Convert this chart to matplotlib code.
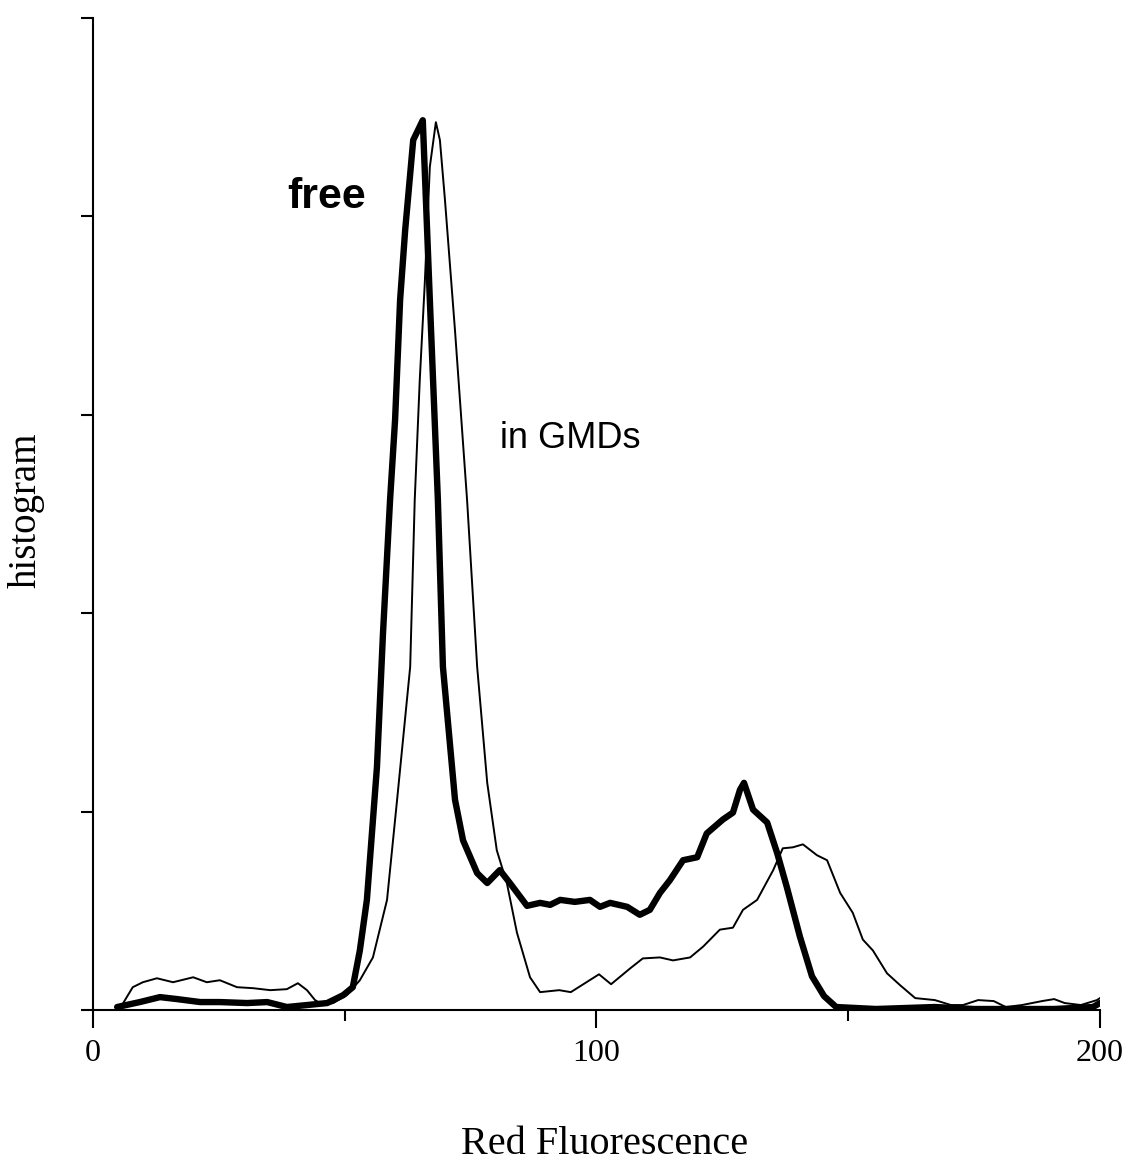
import matplotlib
matplotlib.use("Agg")
import matplotlib.pyplot as plt

# free (thick line)
free_x = [4.8, 9.3, 13.3, 16.7, 21.3, 25.2, 30.6, 34.6, 38.5, 42.5, 46.5, 49.7, 51.6,
          53.0, 54.4, 56.4, 57.6, 59.0, 60.0, 61.0, 62.0, 63.6, 65.5, 66.9, 68.5, 69.5,
          71.9, 73.5, 76.3, 78.3, 80.8, 82.8, 86.2, 88.8, 90.8, 92.8, 95.7, 98.7, 100.7,
          102.7, 106.1, 108.6, 110.6, 112.6, 114.6, 117.2, 120.0, 121.9, 125.1, 127.1,
          128.5, 129.3, 131.1, 133.9, 135.9, 137.8, 140.4, 142.8, 145.2, 147.6, 155.5,
          167.2, 175.0, 190.9, 198.6, 200.0]
free_y = [0.3, 0.8, 1.3, 1.1, 0.8, 0.8, 0.7, 0.8, 0.3, 0.5, 0.7, 1.5, 2.3,
          6.0, 11.1, 24.5, 38.0, 51.4, 59.5, 71.6, 78.6, 87.7, 89.7, 71.6, 51.4, 34.6,
          21.2, 17.1, 13.8, 12.8, 14.1, 12.8, 10.5, 10.8, 10.6, 11.1, 10.9, 11.1, 10.4,
          10.8, 10.4, 9.6, 10.1, 11.8, 13.1, 15.1, 15.4, 17.8, 19.2, 19.9,
          22.2, 22.9, 20.2, 18.9, 15.8, 12.4, 7.4, 3.4, 1.4, 0.3, 0.1,
          0.3, 0.1, 0.1, 0.3, 0.7]

# in GMDs (thin line)
gmd_x = [6.0, 7.9, 9.9, 12.7, 15.9, 19.9, 22.6, 25.2, 28.6, 31.8, 35.2, 38.5, 40.7,
         42.5, 44.1, 45.7, 47.7, 50.4, 53.0, 55.6, 58.4, 60.4, 63.0, 63.9, 64.9, 65.9,
         66.9, 68.1, 68.9, 69.9, 71.9, 74.3, 76.3, 78.3, 80.2, 82.2, 84.2, 86.8, 88.8,
         92.6, 94.9, 100.5, 102.9, 106.7, 109.2, 112.6, 115.2, 118.6, 121.2, 124.5,
         127.1, 129.1, 131.9, 135.1, 137.0, 139.0, 141.0, 143.8, 145.8, 148.4, 150.9,
         152.9, 154.9, 157.7, 160.3, 163.3, 167.2, 170.4, 172.8, 175.8, 178.9, 181.3,
         184.5, 188.5, 190.9, 193.0, 196.2, 199.4, 200.0]
gmd_y = [0.7, 2.3, 2.8, 3.2, 2.8, 3.3, 2.8, 3.0, 2.3, 2.2, 2.0, 2.1, 2.7,
         2.0, 1.0, 0.5, 0.7, 1.5, 3.0, 5.3, 11.1, 21.2, 34.6, 51.4, 63.5, 73.3,
         85.0, 89.5, 87.7, 81.7, 68.5, 51.4, 34.6, 22.9, 16.1, 12.8, 7.8, 3.3, 1.8,
         2.0, 1.8, 3.6, 2.6, 4.2, 5.2, 5.3, 5.0, 5.3, 6.4, 8.1,
         8.3, 10.1, 11.1, 14.1, 16.3, 16.4, 16.7, 15.6, 15.1, 11.8, 9.8,
         7.1, 6.0, 3.7, 2.5, 1.2, 1.0, 0.5, 0.5, 1.0, 0.9, 0.3,
         0.5, 0.9, 1.1, 0.7, 0.5, 1.0, 1.2]

x_major = [0, 100, 200]
x_minor = [50, 150]
y_ticks = [0, 20, 40, 60, 80, 100]

fig = plt.figure(figsize=(11.34, 11.64), dpi=100)
ax = fig.add_axes([0.082, 0.1323, 0.888, 0.8522])

ax.plot(gmd_x, gmd_y, color='black', lw=1.4, solid_joinstyle='round')
ax.plot(free_x, free_y, color='black', lw=4.6, solid_joinstyle='round',
        solid_capstyle='round')

ax.text(46.5, 82, 'free', fontsize=31, fontweight='bold',
        family='Liberation Sans', ha='center', va='center')
ax.text(94.7, 57.6, 'in GMDs', fontsize=26, family='Liberation Sans',
        ha='center', va='center')

ax.set_xlim(0, 200)
ax.set_ylim(0, 100)
ax.spines['top'].set_visible(False)
ax.spines['right'].set_visible(False)
for s in ['left', 'bottom']:
    ax.spines[s].set_linewidth(1.5)

ax.set_xticks(x_major)
ax.set_xticklabels([str(v) for v in x_major], family='Liberation Serif', fontsize=23)
ax.set_xticks(x_minor, minor=True)
ax.set_yticks(y_ticks)
ax.set_yticklabels([])
ax.tick_params(axis='x', which='major', direction='out', length=13, width=1.5, pad=8)
ax.tick_params(axis='x', which='minor', direction='out', length=8, width=1.5)
ax.tick_params(axis='y', which='major', direction='out', length=9, width=1.5)

ax.set_xlabel('Red Fluorescence', family='Liberation Serif', fontsize=29)
ax.set_ylabel('histogram', family='Liberation Serif', fontsize=28)
ax.xaxis.set_label_coords(0.508, -0.117)
ax.yaxis.set_label_coords(-0.048, 0.504)

fig.savefig('out.png', dpi=100)
